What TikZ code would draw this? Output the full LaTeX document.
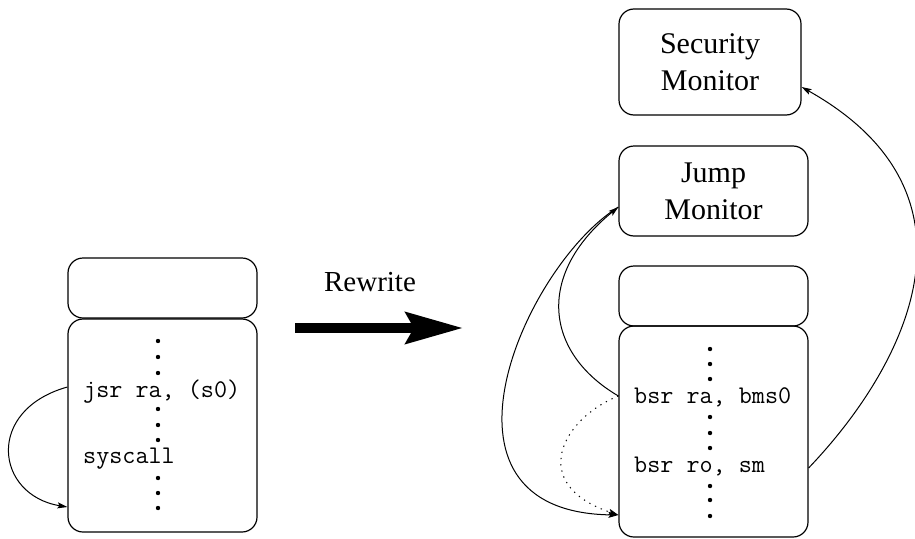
\documentclass[tikz,border=0pt]{standalone}
\usepackage{fontspec}
\setmainfont{Liberation Serif}
\usetikzlibrary{arrows.meta}
\begin{document}
\begin{tikzpicture}[x=1pt,y=-1pt,
  box/.style={draw,line width=1.2pt,rounded corners=15pt,inner sep=0pt,minimum width=189pt,
              font=\fontsize{30}{37}\selectfont,align=center},
  code/.style={font=\ttfamily\fontsize{25.4}{30}\selectfont,inner sep=0pt,anchor=base west},
  dotn/.style={circle,fill=black,inner sep=0pt,minimum size=4.4pt},
  conn/.style={line width=1pt,-{Stealth[length=10pt,width=6pt,inset=2pt]}},
  sparsedots/.style={dash pattern=on 1.3pt off 5pt},
  bigarrow/.style={line width=10pt,-{Stealth[length=57pt,width=31pt,inset=8pt]}}]
\useasboundingbox (0,0) rectangle (915,538);
% left side
\node[box,minimum height=60pt] (lt) at (162.5,288) {};
\node[box,minimum height=213pt] (lb) at (162.5,425.5) {};
\node[code] (jsr) at (83,397) {jsr ra, (s0)};
\node[code] (sys) at (83,463) {syscall};
\foreach \i/\y in {1/341,2/357,3/373,4/409,5/425,6/440,7/478,8/493,9/508}
  \node[dotn] (ld\i) at (158,\y) {};
% rewrite arrow
\node[font=\fontsize{29}{34}\selectfont,inner sep=0pt] (rw) at (370,282) {Rewrite};
\coordinate (ra1) at (295,328);
\coordinate (ra2) at (463,328);
\draw[bigarrow] (ra1) -- (ra2);
% right side
\node[box,minimum width=182pt,minimum height=106pt] (sm) at (710,62) {Security\\Monitor};
\node[box,minimum height=90pt] (jm) at (713.5,191) {Jump\\Monitor};
\node[box,minimum height=60pt] (rt) at (713.5,296) {};
\node[box,minimum height=211pt] (rb) at (713.5,431.5) {};
\node[code] (bra) at (634,403) {bsr ra, bms0};
\node[code] (bro) at (634,472) {bsr ro, sm};
\foreach \i/\y in {1/349,2/364,3/379,4/417,5/433,6/448,7/486,8/500,9/516}
  \node[dotn] (rd\i) at (710,\y) {};
% connectors
\draw[conn] ([yshift=38.5pt]lb.west) .. controls (-15,410) and (-5,495) .. ([yshift=-81.5pt]lb.west);
\draw[conn] ([yshift=35.5pt]rb.west) .. controls (545,353) and (535,275) .. ([yshift=-16pt]jm.west);
\draw[conn] ([yshift=-16pt]jm.west) .. controls (525,265) and (415,512) .. ([yshift=-83.5pt]rb.west);
\draw[conn,sparsedots] ([yshift=35.5pt]rb.west) .. controls (563,418) and (526,484) .. ([yshift=-83.5pt]rb.west);
\draw[conn] ([yshift=-36.5pt]rb.east) .. controls (906,366) and (994,195) .. ([yshift=-25pt]sm.east);
\end{tikzpicture}
\end{document}
